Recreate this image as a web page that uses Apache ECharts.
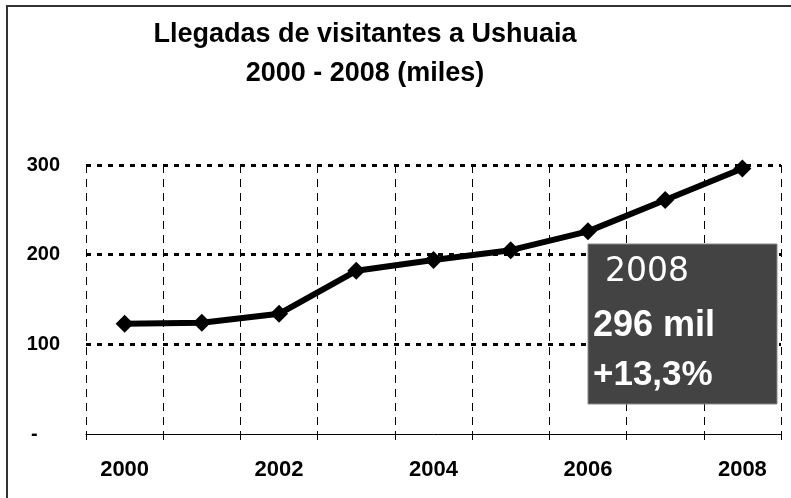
<!DOCTYPE html>
<html>
<head>
<meta charset="utf-8">
<script src="https://cdn.jsdelivr.net/npm/echarts@6/dist/echarts.min.js"></script>
<style>
html,body{margin:0;padding:0;background:#fff;}
#chart{width:791px;height:498px;}
</style>
</head>
<body>
<div id="chart"></div>
<script>
const titleText = 'Llegadas de visitantes a Ushuaia\n2000 - 2008 (miles)';
const years = ['2000','2001','2002','2003','2004','2005','2006','2007','2008'];
const visitors = [123, 124, 134, 182, 194, 205, 226, 261, 296];
const yTicks = [0, 100, 200, 300];
const noteYear = '2008';
const noteValue = '296 mil';
const noteChange = '+13,3%';

const FONT = '"Liberation Sans", Arial, sans-serif';
const chart = echarts.init(document.getElementById('chart'), null, {renderer:'canvas'});
chart.setOption({
  animation: false,
  backgroundColor: '#fff',
  title: {
    text: titleText,
    left: 365,
    top: 15,
    textAlign: 'center',
    padding: 0,
    textStyle: {fontFamily: FONT, fontWeight: 'bold', fontSize: 27, lineHeight: 39, color: '#000'}
  },
  grid: {left: 86, right: 10, top: 165, bottom: 64, containLabel: false},
  xAxis: {
    type: 'category',
    data: years,
    boundaryGap: true,
    z: 5,
    axisLine: {show: true, lineStyle: {color: '#000', width: 1}},
    axisTick: {show: true, length: 6, interval: 0, lineStyle: {color: '#000', width: 1}},
    axisLabel: {interval: 1, margin: 25, fontFamily: FONT, fontWeight: 'bold', fontSize: 22, color: '#000'},
    splitLine: {show: true, interval: 0, lineStyle: {color: '#000', width: 1, type: [8, 6]}}
  },
  yAxis: {
    type: 'value',
    min: yTicks[0],
    max: yTicks[yTicks.length - 1],
    interval: 100,
    axisLine: {show: false},
    axisTick: {show: false},
    axisLabel: {
      margin: 26, fontFamily: FONT, fontWeight: 'bold', fontSize: 20, color: '#000',
      formatter: v => (v === 0 ? '-    ' : String(v))
    },
    splitLine: {show: true, showMinLine: false, lineStyle: {color: '#000', width: 3, type: [5, 6]}}
  },
  series: [{
    type: 'line',
    data: visitors,
    symbol: 'diamond',
    symbolSize: 18,
    itemStyle: {color: '#000'},
    lineStyle: {color: '#000', width: 6},
    z: 3
  }],
  graphic: [
    {type: 'line', shape: {x1: 7, y1: 5, x2: 7, y2: 498}, style: {stroke: '#333', lineWidth: 2}},
    {type: 'line', shape: {x1: 6, y1: 6, x2: 791, y2: 6}, style: {stroke: '#333', lineWidth: 2}},
    {type: 'rect', shape: {x: 588, y: 244, width: 189, height: 160}, style: {fill: '#434343', stroke: '#888', lineWidth: 1}, z: 10},
    {type: 'text', x: 605, y: 272, z: 11, style: {text: noteYear, fill: '#fff', font: 'normal 33px "DejaVu Sans", sans-serif', textAlign: 'left', textVerticalAlign: 'middle'}},
    {type: 'text', x: 593, y: 326, z: 11, style: {text: noteValue, fill: '#fff', font: 'bold 36px "Liberation Sans", Arial, sans-serif', textAlign: 'left', textVerticalAlign: 'middle'}},
    {type: 'text', x: 593, y: 375, z: 11, style: {text: noteChange, fill: '#fff', font: 'bold 35px "Liberation Sans", Arial, sans-serif', textAlign: 'left', textVerticalAlign: 'middle'}}
  ]
});
</script>
</body>
</html>
